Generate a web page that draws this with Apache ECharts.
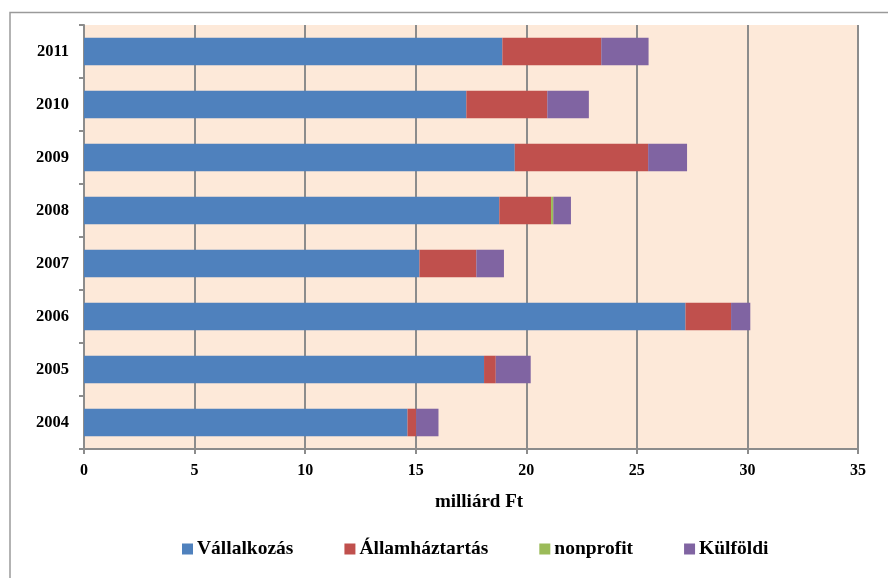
<!DOCTYPE html>
<html>
<head>
<meta charset="utf-8">
<script src="https://cdn.jsdelivr.net/npm/echarts@6/dist/echarts.min.js"></script>
<style>
  html, body { margin: 0; padding: 0; background: #ffffff; }
  #chart { width: 888px; height: 578px; }
</style>
</head>
<body>
<div id="chart"></div>
<script>
// Kutatás-fejlesztési ráfordítások forrás szerint, milliárd Ft
const years = ['2004', '2005', '2006', '2007', '2008', '2009', '2010', '2011'];
const vallalkozas    = [14.63, 18.09, 27.20, 15.17, 18.78, 19.48, 17.29, 18.92];
const allamhaztartas = [0.39, 0.53, 2.06, 2.57, 2.34, 6.03, 3.66, 4.47];
const nonprofit      = [0, 0, 0, 0, 0.10, 0, 0, 0];
const kulfoldi       = [1.01, 1.58, 0.87, 1.25, 0.80, 1.76, 1.88, 2.14];

const seriesNames = ['Vállalkozás', 'Államháztartás', 'nonprofit', 'Külföldi'];
const seriesColors = ['#4F81BD', '#C0504D', '#9BBB59', '#8064A2'];
const seriesData = [vallalkozas, allamhaztartas, nonprofit, kulfoldi];

const serif = '"Liberation Serif", "Times New Roman", "DejaVu Serif", serif';
const axisGray = '#8c8c8c';

const chart = echarts.init(document.getElementById('chart'), null, { renderer: 'canvas' });

chart.setOption({
  backgroundColor: '#ffffff',
  animation: false,
  textStyle: { fontFamily: serif },
  graphic: [{
    type: 'rect',
    silent: true,
    z: -10,
    shape: { x: 10, y: 12.5, width: 1000, height: 1000 },
    style: { fill: 'none', stroke: '#9a9a9a', lineWidth: 1.5 }
  }],
  grid: {
    left: 84, right: 30, top: 25, bottom: 129,
    show: true,
    backgroundColor: '#FDE9D9',
    borderWidth: 0
  },
  legend: {
    data: seriesNames,
    left: 182,
    top: 539,
    padding: 0,
    icon: 'rect',
    itemWidth: 11,
    itemHeight: 11,
    itemGap: 51,
    textStyle: {
      fontFamily: serif, fontWeight: 'bold', fontSize: 19.5, color: '#000',
      padding: [0, 0, 0, -1]
    }
  },
  xAxis: {
    type: 'value',
    min: 0, max: 35, interval: 5,
    name: 'milliárd Ft',
    nameLocation: 'middle',
    nameGap: 44,
    nameTextStyle: {
      fontFamily: serif, fontWeight: 'bold', fontSize: 19, color: '#000',
      padding: [0, 0, 0, 16]
    },
    axisLine: { show: true, lineStyle: { color: axisGray, width: 2 } },
    axisTick: { show: true, length: 5, lineStyle: { color: axisGray, width: 2 } },
    axisLabel: {
      margin: 14,
      fontFamily: serif, fontWeight: 'bold', fontSize: 16, color: '#000'
    },
    splitLine: { show: true, lineStyle: { color: axisGray, width: 2 } }
  },
  yAxis: {
    type: 'category',
    data: years,
    axisLine: { show: true, lineStyle: { color: axisGray, width: 2 } },
    axisTick: { show: true, inside: false, length: 5, lineStyle: { color: axisGray, width: 2 } },
    axisLabel: {
      margin: 15,
      fontFamily: serif, fontWeight: 'bold', fontSize: 16.5, color: '#000'
    },
    splitLine: { show: false }
  },
  series: seriesNames.map((name, i) => ({
    name: name,
    type: 'bar',
    stack: 'total',
    barCategoryGap: '48%',
    itemStyle: { color: seriesColors[i] },
    data: seriesData[i]
  }))
});
</script>
</body>
</html>
